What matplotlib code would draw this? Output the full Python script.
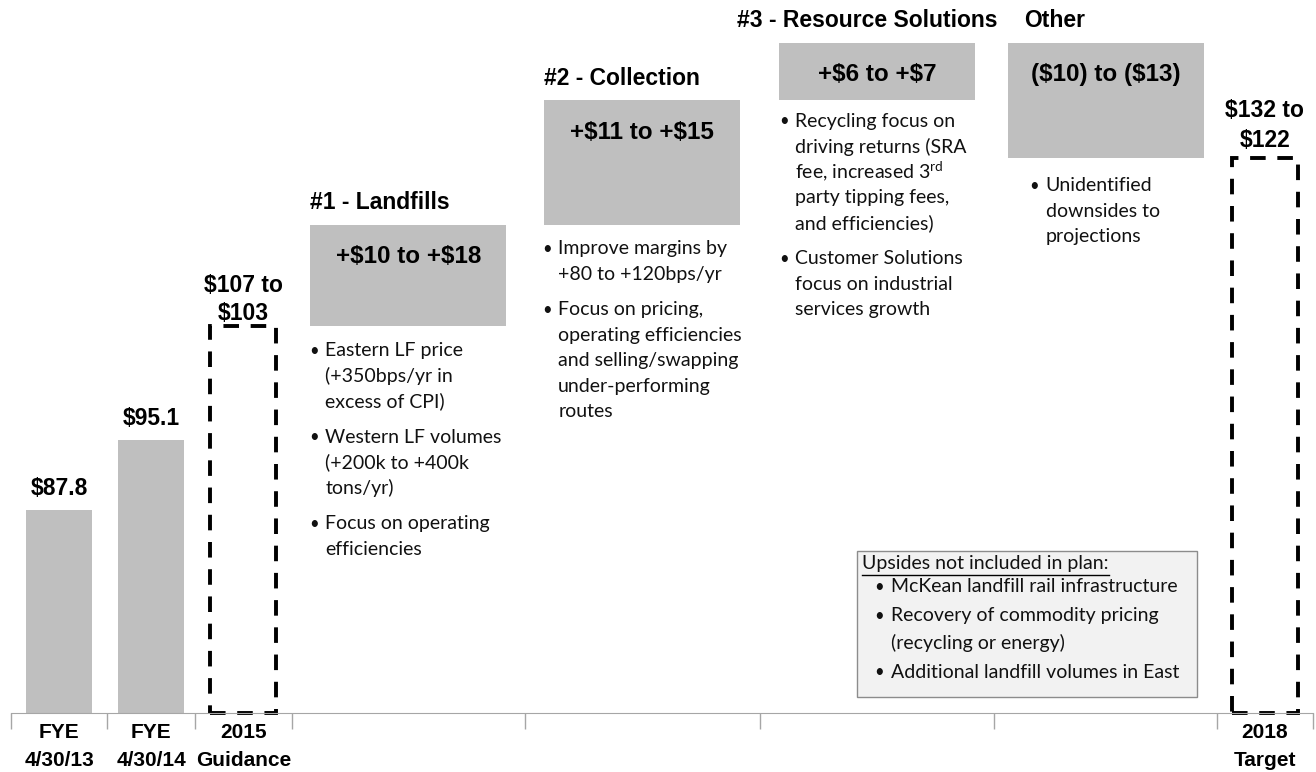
import numpy as np
import matplotlib.pyplot as plt
from matplotlib.patches import Rectangle
from matplotlib.lines import Line2D

# category layout on the x axis (tick edges) and labels
edges = [0, 1.02, 1.95, 2.98, 5.45, 7.94, 10.43, 12.79, 13.81]
categories = ['FYE\n4/30/13', 'FYE\n4/30/14', '2015\nGuidance', '', '', '', '', '2018\nTarget']

# historical EBITDA ($M)
actuals = [87.8, 95.1]
actual_labels = ['$87.8', '$95.1']

# guidance / target ranges
guidance_2015 = 107
guidance_label = ['$107 to', '$103']
target_label = ['$132 to', '$122']

# bridge steps
step_names = ['#1 - Landfills', '#2 - Collection', '#3 - Resource Solutions', 'Other']
step_values = [10.5, 13, 6, -12]
step_labels = ['+$10 to +$18', '+$11 to +$15', '+$6 to +$7', '($10) to ($13)']
step_notes = [
    [['Eastern LF price', '(+350bps/yr in', 'excess of CPI)'],
     ['Western LF volumes', '(+200k to +400k', 'tons/yr)'],
     ['Focus on operating', 'efficiencies']],
    [['Improve margins by', '+80 to +120bps/yr'],
     ['Focus on pricing,', 'operating efficiencies', 'and selling/swapping',
      'under-performing', 'routes']],
    [['Recycling focus on', 'driving returns (SRA', r'fee, increased 3$^{\mathrm{rd}}$',
      'party tipping fees,', 'and efficiencies)'],
     ['Customer Solutions', 'focus on industrial', 'services growth']],
    [['Unidentified', 'downsides to', 'projections']],
]

upsides_title = 'Upsides not included in plan:'
upsides = [['McKean landfill rail infrastructure'],
           ['Recovery of commodity pricing', '(recycling or energy)'],
           ['Additional landfill volumes in East']]

GRAY = '#BFBFBF'
BOLD = dict(family='Liberation Sans', fontweight='bold', color='black', parse_math=False)
BODY = dict(family='Lato', color='#111111')
plt.rcParams['mathtext.fontset'] = 'custom'
plt.rcParams['mathtext.rm'] = 'Lato'

centers = [(a + b) / 2 for a, b in zip(edges[:-1], edges[1:])]

W, H = 1316, 772
fig = plt.figure(figsize=(W / 100, H / 100), dpi=100)
ax = fig.add_axes([11 / W, 59 / H, 1302 / W, 713 / H])
y0 = 66.6
ax.set_xlim(edges[0], edges[-1])
ax.set_ylim(y0, y0 + 713 / 9.59)

for s in ['top', 'left', 'right']:
    ax.spines[s].set_visible(False)
ax.spines['bottom'].set_color('#A6A6A6')
ax.set_yticks([])
ax.set_xticks(edges)
ax.set_xticklabels([])
ax.tick_params(axis='x', which='major', length=11.5, color='#A6A6A6', width=1)
ax.set_xticks(centers, minor=True)
ax.set_xticklabels(categories, minor=True, fontsize=15, linespacing=1.6, **BOLD)
ax.tick_params(axis='x', which='minor', length=0, pad=7)


def stack(x, y, lines, dx, dy, step=25.5, ha='center', **kw):
    for i, line in enumerate(lines):
        ax.annotate(line, (x, y), xytext=(dx, dy - i * step), textcoords='offset pixels',
                    ha=ha, va='center', annotation_clip=False, **kw)


# historical bars
ax.bar(centers[:2], actuals, width=0.7, color=GRAY)
for x, v, lab in zip(centers[:2], actuals, actual_labels):
    stack(x, v, [lab], 0, 21, fontsize=16.5, **BOLD)

# bridge boxes
starts = guidance_2015 + np.concatenate([[0], np.cumsum(step_values)[:-1]])
target_2018 = guidance_2015 + sum(step_values)
box_w = 2.08
ax.bar(centers[3:7], step_values, bottom=starts, width=box_w, color=GRAY)

header_dx = [0, 0, -42, 17]
bullet_dx = [4, 3, 5, 27]
note_dy = [-25, -24, -21, -28]
for i in range(4):
    x = centers[3 + i]
    left = x - box_w / 2
    top = max(starts[i], starts[i] + step_values[i])
    bottom = min(starts[i], starts[i] + step_values[i])
    stack(left, top, [step_names[i]], header_dx[i], 22, ha='left', fontsize=16.5, **BOLD)
    stack(x, top, [step_labels[i]], 0, -32, fontsize=17.5, **BOLD)
    dy = note_dy[i]
    for para in step_notes[i]:
        stack(left, bottom, ['•'], bullet_dx[i], dy, fontsize=12, **BODY)
        stack(left, bottom, para, bullet_dx[i] + 11, dy, ha='left', fontsize=14, **BODY)
        dy -= len(para) * 25.5 + 10

# guidance and target outlines
dash = dict(fill=False, edgecolor='black', linewidth=2.8, linestyle=(0, (4, 3)), clip_on=False)
ax.bar(centers[2], guidance_2015 - y0, bottom=y0, width=0.7, **dash)
ax.bar(centers[7], target_2018 - y0, bottom=y0, width=0.7, **dash)
stack(centers[2], guidance_2015, guidance_label, 0, 40, step=28, fontsize=16.5, **BOLD)
stack(centers[7], target_2018, target_label, 0, 47, step=30, fontsize=16.5, **BOLD)


# upsides call-out box, in figure pixels
def fx(px):
    return px / W


def fy(py):
    return 1 - py / H


fig.patches.append(Rectangle((fx(857), fy(697)), fx(1197) - fx(857), fy(551) - fy(697),
                             transform=fig.transFigure, facecolor='#F2F2F2',
                             edgecolor='#8C8C8C', linewidth=1, zorder=0))
title = fig.text(fx(862), fy(563), upsides_title, ha='left', va='center', fontsize=14, **BODY)
fig.canvas.draw()
bb = title.get_window_extent()
fig.add_artist(Line2D([bb.x0 / W, bb.x1 / W], [fy(575), fy(575)], transform=fig.transFigure,
                      color='black', linewidth=1))
yy = 587
for para in upsides:
    fig.text(fx(879), fy(yy), '•', ha='center', va='center', fontsize=12, **BODY)
    for j, line in enumerate(para):
        fig.text(fx(891), fy(yy + j * 27), line, ha='left', va='center', fontsize=14, **BODY)
    yy += len(para) * 27 + 2

fig.savefig('out.png', dpi=100)
